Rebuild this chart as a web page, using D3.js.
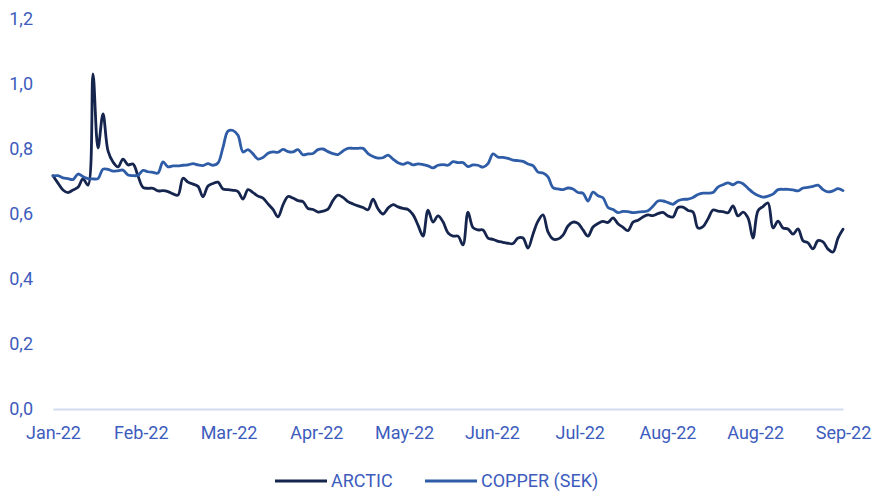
<!DOCTYPE html>
<html>
<head>
<meta charset="utf-8">
<script src="https://cdn.jsdelivr.net/npm/d3@7"></script>
<style>
  body { margin: 0; background: #fff; }
  svg { display: block; }
</style>
</head>
<body>
<div id="chart"></div>
<script>
const WIDTH = 874;
const HEIGHT = 495;
const MARGIN = { left: 53, right: 31, top: 19, bottom: 86 };
const FONT = 'Roboto, "Noto Sans", sans-serif';
const FONT_SIZE = '18px';
const TEXT_COLOR = '#3d5cbd';

const X_LABELS = ['Jan-22', 'Feb-22', 'Mar-22', 'Apr-22', 'May-22', 'Jun-22', 'Jul-22', 'Aug-22', 'Aug-22', 'Sep-22'];
const Y_TICKS = [0, 0.2, 0.4, 0.6, 0.8, 1.0, 1.2];
const SERIES_NAMES = ['ARCTIC', 'COPPER (SEK)'];
const SERIES_COLORS = ['#15254d', '#2e5ca6'];

const arctic = [
	0.718, 0.695, 0.674, 0.666, 0.674, 0.682, 0.708, 0.689, 1.031, 0.803,
	0.908, 0.794, 0.760, 0.745, 0.769, 0.751, 0.754, 0.717, 0.682, 0.679,
	0.679, 0.671, 0.672, 0.669, 0.662, 0.658, 0.710, 0.698, 0.692, 0.685,
	0.653, 0.686, 0.694, 0.698, 0.677, 0.675, 0.673, 0.669, 0.646, 0.675,
	0.666, 0.655, 0.649, 0.631, 0.614, 0.591, 0.628, 0.654, 0.649, 0.641,
	0.638, 0.617, 0.614, 0.606, 0.609, 0.615, 0.642, 0.658, 0.651, 0.638,
	0.631, 0.625, 0.620, 0.613, 0.646, 0.616, 0.600, 0.618, 0.629, 0.622,
	0.617, 0.614, 0.598, 0.566, 0.532, 0.612, 0.575, 0.594, 0.576, 0.542,
	0.532, 0.532, 0.505, 0.606, 0.558, 0.551, 0.551, 0.526, 0.522, 0.516,
	0.513, 0.510, 0.509, 0.526, 0.526, 0.495, 0.538, 0.578, 0.597, 0.545,
	0.523, 0.523, 0.535, 0.563, 0.575, 0.571, 0.551, 0.532, 0.560, 0.571,
	0.577, 0.574, 0.588, 0.570, 0.559, 0.549, 0.575, 0.581, 0.591, 0.597,
	0.595, 0.601, 0.605, 0.594, 0.591, 0.620, 0.621, 0.611, 0.606, 0.557,
	0.561, 0.585, 0.612, 0.609, 0.607, 0.604, 0.625, 0.594, 0.606, 0.588,
	0.526, 0.610, 0.623, 0.634, 0.557, 0.578, 0.557, 0.554, 0.538, 0.554,
	0.518, 0.511, 0.493, 0.518, 0.514, 0.492, 0.483, 0.526, 0.553
];

const copper = [
	0.717, 0.718, 0.711, 0.709, 0.706, 0.723, 0.715, 0.709, 0.708, 0.709,
	0.738, 0.737, 0.732, 0.733, 0.735, 0.720, 0.718, 0.719, 0.734, 0.730,
	0.728, 0.726, 0.760, 0.745, 0.748, 0.748, 0.750, 0.751, 0.755, 0.751,
	0.749, 0.755, 0.750, 0.757, 0.805, 0.855, 0.857, 0.842, 0.791, 0.798,
	0.785, 0.769, 0.774, 0.787, 0.791, 0.790, 0.799, 0.792, 0.791, 0.798,
	0.782, 0.785, 0.786, 0.798, 0.800, 0.792, 0.786, 0.783, 0.794, 0.802,
	0.802, 0.802, 0.802, 0.786, 0.777, 0.772, 0.773, 0.781, 0.769, 0.758,
	0.753, 0.758, 0.751, 0.754, 0.752, 0.748, 0.742, 0.750, 0.752, 0.750,
	0.761, 0.758, 0.758, 0.746, 0.751, 0.750, 0.744, 0.755, 0.785, 0.775,
	0.774, 0.771, 0.766, 0.764, 0.762, 0.754, 0.749, 0.729, 0.726, 0.714,
	0.681, 0.677, 0.675, 0.680, 0.677, 0.666, 0.664, 0.640, 0.667, 0.656,
	0.650, 0.620, 0.614, 0.604, 0.608, 0.607, 0.604, 0.606, 0.607, 0.610,
	0.624, 0.640, 0.640, 0.635, 0.630, 0.641, 0.645, 0.646, 0.651, 0.660,
	0.664, 0.664, 0.666, 0.683, 0.690, 0.696, 0.690, 0.698, 0.693, 0.679,
	0.666, 0.657, 0.652, 0.655, 0.661, 0.675, 0.676, 0.676, 0.674, 0.671,
	0.680, 0.682, 0.685, 0.689, 0.675, 0.668, 0.671, 0.678, 0.672
];

const main = () => {
	const series = [arctic, copper];
	const n = arctic.length;

	const svg = d3.select('#chart')
		.append('svg')
		.attr('width', WIDTH)
		.attr('height', HEIGHT);

	// scales
	const xScale = d3.scaleLinear()
		.domain([0, n - 1])
		.range([MARGIN.left, WIDTH - MARGIN.right]);
	const yScale = d3.scaleLinear()
		.domain([0, 1.2])
		.range([HEIGHT - MARGIN.bottom, MARGIN.top]);

	// y axis labels (no line)
	const yAxis = d3.axisLeft(yScale)
		.tickValues(Y_TICKS)
		.tickSize(0)
		.tickPadding(0)
		.tickFormat(d => d3.format('.1f')(d).replace('.', ','));
	const gy = svg.append('g')
		.attr('transform', `translate(33, 0)`)
		.call(yAxis);
	gy.select('.domain').remove();
	gy.selectAll('text')
		.style('font-family', FONT)
		.style('font-size', FONT_SIZE)
		.attr('fill', TEXT_COLOR);

	// x axis
	const tickIdx = X_LABELS.map((_, i) => i * (n - 1) / (X_LABELS.length - 1));
	const xAxis = d3.axisBottom(xScale)
		.tickValues(tickIdx)
		.tickSize(0)
		.tickPadding(17)
		.tickFormat((d, i) => X_LABELS[i]);
	const gx = svg.append('g')
		.attr('transform', `translate(0, ${yScale(0)})`)
		.call(xAxis);
	gx.select('.domain')
		.attr('stroke', '#d3dbef')
		.attr('stroke-width', 2);
	gx.selectAll('text')
		.style('font-family', FONT)
		.style('font-size', FONT_SIZE)
		.attr('fill', TEXT_COLOR);

	// lines
	const line = d3.line()
		.curve(d3.curveCatmullRom.alpha(0.5))
		.x((d, i) => xScale(i))
		.y(d => yScale(d));
	series.forEach((s, k) => {
		svg.append('path')
			.datum(s)
			.attr('fill', 'none')
			.attr('stroke', SERIES_COLORS[k])
			.attr('stroke-width', 2.8)
			.attr('stroke-linejoin', 'round')
			.attr('stroke-linecap', 'round')
			.attr('d', line);
	});

	// legend
	const legendY = 481;
	const legendX = [275, 425];
	SERIES_NAMES.forEach((name, k) => {
		const g = svg.append('g').attr('transform', `translate(${legendX[k]}, ${legendY})`);
		g.append('line')
			.attr('x1', 0).attr('x2', 52)
			.attr('stroke', SERIES_COLORS[k])
			.attr('stroke-width', 2.8);
		g.append('text')
			.attr('x', 56)
			.attr('dy', '0.35em')
			.style('font-family', FONT)
			.style('font-size', FONT_SIZE)
			.attr('fill', TEXT_COLOR)
			.text(name);
	});
}

main();
</script>
</body>
</html>
